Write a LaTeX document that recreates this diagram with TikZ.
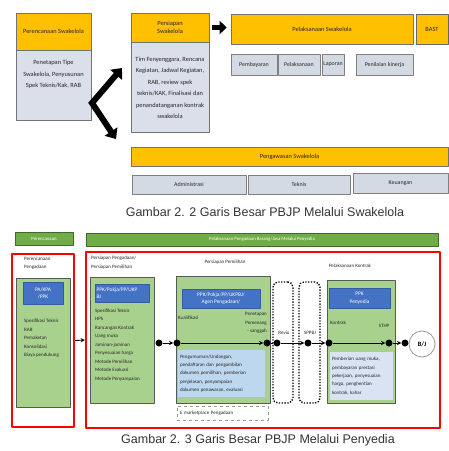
\documentclass[tikz,border=0pt]{standalone}
\usepackage{fontspec}
\setmainfont{Carlito}
\newfontfamily\capfont{Liberation Sans}
\usetikzlibrary{arrows.meta}
\definecolor{kuning}{RGB}{255,192,0}
\definecolor{abu}{RGB}{218,223,233}
\definecolor{abudua}{RGB}{212,218,228}
\definecolor{hijau}{RGB}{112,173,71}
\definecolor{hijaumuda}{RGB}{169,209,142}
\definecolor{biru}{RGB}{68,114,196}
\definecolor{birumuda}{RGB}{189,215,238}
\definecolor{ungumuda}{RGB}{218,227,243}

\begin{document}
\begin{tikzpicture}[x=1pt,y=-1pt,>=stealth,line join=round,
	kotak/.style={draw=black!55,line width=.6pt,inner sep=1pt,align=center,text=black!85,font=\fontsize{6.4}{11.5}\selectfont},
	kepala/.style={kotak,fill=kuning},
	isi/.style={kotak,fill=abu},
	sub/.style={kotak,fill=abudua,draw=black!50,font=\fontsize{5.9}{6.5}\selectfont},
	bar/.style={draw=hijau!60!black,line width=.4pt,fill=hijau,text=white,inner sep=0pt,font=\fontsize{4.8}{5.5}\selectfont},
	bingkai/.style={draw=red,line width=2.2pt,inner sep=0pt},
	kotakhijau/.style={draw=black!65,line width=.7pt,fill=hijaumuda,inner sep=0pt},
	kotakbiru/.style={fill=biru,draw=biru!80!black,text=white,inner sep=1pt,align=center,font=\fontsize{5.4}{7.5}\selectfont},
	teks/.style={inner sep=0pt,align=left,text=black!85,font=\fontsize{5}{8.5}\selectfont},
	titik/.style={circle,fill=black,inner sep=0pt,minimum size=7pt},
	titiktitik/.style={draw,line width=1.4pt,dash pattern=on 1.3pt off 1.5pt,rounded corners=5pt,inner sep=0pt},
	judul/.style={text=black!80,font=\capfont\fontsize{12.5}{13}\selectfont}]
	\useasboundingbox (0,0) rectangle (449,451);
	% swakelola
	\node[kepala,minimum width=75,minimum height=37] (hdA) at (53.5,31.5) {Perencanaan Swakelola};
	\node[isi,minimum width=75,minimum height=70,anchor=north] (bdA) at (hdA.south) {Penetapan Tipe\\Swakelola, Penyusunan\\Spek Teknis/Kak, RAB\\[12pt]};
	\node[kepala,minimum width=78,minimum height=29] (hdB) at (170,27.5) {Persiapan\\[-4pt]Swakelola};
	\node[isi,minimum width=78,minimum height=90,anchor=north] (bdB) at (hdB.south) {Tim Fenyenggara, Rencana\\Kegiatan, Jadwal Kegiatan,\\RAB, review spek\\teknis/KAK, Finalisasi dan\\penandatanganan kontrak\\swakelola};
	\node[kepala,minimum width=182,minimum height=30] (hdC) at (322,29) {Pelaksanaan Swakelola};
	\node[kepala,minimum width=32,minimum height=30,draw=black!60] (bast) at (432,29) {BAST};
	\node[sub,minimum width=46,minimum height=21] (pem) at (254,64.5) {Pembayaran};
	\node[sub,minimum width=42,minimum height=21] (pel) at (299,64.5) {Pelaksanaan};
	\node[sub,minimum width=22,minimum height=21] (lap) at (333,64.5) {Laporan};
	\node[sub,minimum width=57,minimum height=21] (pen) at (384.5,64.5) {Penilaian kinerja};
	\node[kepala,minimum width=317,minimum height=19] (hdD) at (289.5,156.5) {Pengawasan Swakelola};
	\node[sub,minimum width=114,minimum height=19] (adm) at (189,184.5) {Administrasi};
	\node[sub,minimum width=102,minimum height=19] (tek) at (299,184.5) {Teknis};
	\node[sub,minimum width=95,minimum height=20] (keu) at (400.5,183) {Keuangan};
	\coordinate (zA) at (116,139);
	\coordinate (zB) at (92,103);
	\coordinate (zC) at (122,68);
	\draw[line width=6pt,line join=miter,{Triangle[length=9pt,width=15pt]}-{Triangle[length=9pt,width=15pt]}] (zA) -- (zB) -- (zC);
	\draw[line width=5pt,-{Triangle[length=7pt,width=13pt]},shorten <=3pt,shorten >=4pt] (hdB.east) -- (hdB.east-|hdC.west);
	\node[judul] (cap1) at (265,212) {Gambar 2. 2 Garis Besar PBJP Melalui Swakelola};
	% penyedia
	\node[bar,minimum width=58,minimum height=13] (barP) at (44,238.5) {Perencanaan};
	\node[bar,minimum width=352,minimum height=13] (barQ) at (262,239.5) {Pelaksanaan Pengadaan Barang/Jasa Melalui Penyedia};
	\node[bingkai,minimum width=62,minimum height=173] (r1) at (43,340.5) {};
	\node[bingkai,minimum width=354,minimum height=176] (r2) at (263,340) {};
	\draw[->,line width=.9pt] (r1.east) -- (r2.west);
	\node[teks,anchor=north west] (t1) at (24,257) {Perencanaan\\Pengadaan};
	\node[kotakhijau,minimum width=54,minimum height=129] (g1) at (43,342.5) {};
	\node[kotakbiru,minimum width=40,minimum height=22] (b1) at (43,293) {PA/KPA\\/PPK};
	\node[teks,anchor=north west] (l1) at (24,319) {Spesifikasi Teknis\\RAB\\Pemaketan\\Konsolidasi\\Biaya pendukung};
	\node[teks,anchor=north west] (t2) at (91,256) {Persiapan Pengadaan/\\Persiapan Pemilihan};
	\node[kotakhijau,minimum width=64,minimum height=126] (g2) at (122,340) {};
	\node[kotakbiru,minimum width=54,minimum height=18,text width=51,align=left] (b2) at (122,293) {PPK/Pokja/PP/UKP\\BJ};
	\node[teks,anchor=north west] (l2) at (95,308.5) {Spesifikasi Teknis\\HPS\\Rancangan Kontrak\\Uang muka\\Jaminan-jaminan\\Penyesuaian harga\\Metode Pemilihan\\Metode Evaluasi\\Metode Penyampaian};
	\node[teks] (t3) at (225,262) {Persiapan Pemilihan};
	\node[kotakhijau,minimum width=94,minimum height=127] (g3) at (223,339.5) {};
	\node[kotakbiru,minimum width=78,minimum height=19] (b3) at (221,298.5) {PPK/Pokja/PP/UKPBJ/\\Agen Pengadaan/};
	\node[teks,anchor=west] (kual) at (178,318) {Kualifikasi};
	\node[teks,anchor=north east,align=right] (tetap) at (267,312.5) {Penetapan\\Pemenang\\- sanggah};
	\node[teks,fill=birumuda,minimum width=87,minimum height=47,text width=83,inner sep=2pt,font=\fontsize{5}{8.4}\selectfont] (lb3) at (221.5,373.5) {Pengumuman/Undangan,\\pendaftaran dan pengambilan\\dokumen pemilihan, pemberian\\penjelasan, penyampaian\\dokumen penawaran, evaluasi};
	\node[teks,draw=black!40,dashed,minimum width=91,minimum height=14,text width=85,inner sep=3pt] (em) at (222.5,413) {E marketplace Pengadaan};
	\node[titiktitik,minimum width=20,minimum height=121] (dA) at (283,342.5) {};
	\node[titiktitik,minimum width=21,minimum height=121] (dB) at (309.5,342.5) {};
	\node[teks] (reviu) at (284,333) {Reviu};
	\node[teks] (sppbj) at (310,333) {SPPBJ};
	\node[teks] (t4) at (350,266) {Pelaksanaan Kontrak};
	\node[kotakhijau,minimum width=68,minimum height=123] (g4) at (361,341.5) {};
	\node[kotakbiru,minimum width=61,minimum height=20] (b4) at (359.5,298) {PPK\\Penyedia};
	\node[teks,anchor=west] (kontrak) at (330,323) {Kontrak};
	\node[teks] (sthp) at (384,326) {STHP};
	\node[teks,fill=ungumuda,minimum width=63,minimum height=48,text width=59,inner sep=2pt,font=\fontsize{5}{8.4}\selectfont] (lb4) at (361.5,376) {Pemberian uang muka,\\pembayaran prestasi\\pekerjaan, penyesuaian\\harga, penghentian\\kontrak, kahar};
	\node[titik] (d1) at (159,343) {};
	\node[titik] (d2) at (177,343) {};
	\node[titik] (d3) at (267,343) {};
	\node[titik] (d4) at (277,343) {};
	\node[titik] (d5) at (308,343) {};
	\node[titik] (d6) at (329,343) {};
	\node[titik] (d7) at (389,343) {};
	\node[titik] (d8) at (405,343) {};
	\node[circle,draw=black!40,line width=.8pt,fill=white,minimum size=26,inner sep=0pt,font=\fontsize{6.5}{7}\selectfont\bfseries] (bj) at (422,344) {B/J};
	\draw[->,line width=.9pt] (d1) -- (d2);
	\draw[->,line width=.9pt] (d2) -- (d3);
	\draw[line width=.9pt] (d3) -- (d4);
	\draw[->,line width=.9pt] (d4) -- (d5);
	\draw[->,line width=.9pt] (d5) -- (d6);
	\draw[->,line width=.9pt] (d6) -- (d7);
	\draw[->,line width=.9pt] (d7) -- (d8);
	\draw[line width=.9pt] (d8) -- (bj);
	\node[judul] (cap2) at (258,440) {Gambar 2. 3 Garis Besar PBJP Melalui Penyedia};
\end{tikzpicture}
\end{document}
